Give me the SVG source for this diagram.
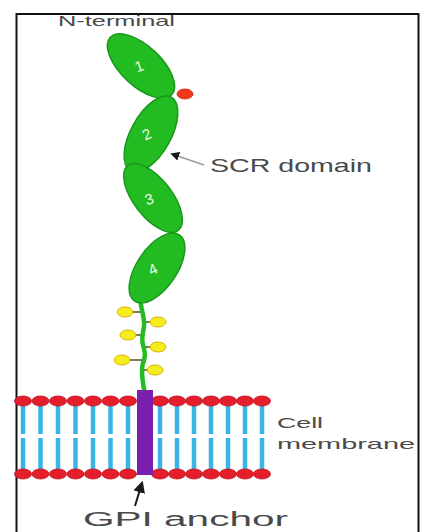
<svg xmlns="http://www.w3.org/2000/svg" width="422" height="532" viewBox="0 0 422 532">
  <defs>
    <style>
      .label { font-family: "Liberation Sans", "DejaVu Sans", Arial, sans-serif; fill: #4a4a4a; }
      .num { font-family: "Liberation Sans", Arial, sans-serif; font-size: 15px; fill: #e8ffe8; text-anchor: middle; }
      .domain { fill: #22bc22; stroke: #17981a; stroke-width: 1.5; }
      .sugar { fill: #f4ec1c; stroke: #d8b400; stroke-width: 1; }
      .head { fill: #e41e2a; stroke: #c01020; stroke-width: 0.8; }
      .tail { stroke: #3ab4e6; stroke-width: 4.5; }
      .link { stroke: #5a4a20; stroke-width: 1.5; }
    </style>
    <marker id="arrowhead" viewBox="0 0 10 10" refX="8" refY="5" markerWidth="6" markerHeight="6" orient="auto-start-reverse">
      <path d="M0,0 L10,5 L0,10 z" fill="#1a1a1a"/>
    </marker>
  </defs>

  <rect x="0" y="0" width="422" height="532" fill="#ffffff"/>
  <!-- outer frame -->
  <rect id="frame" x="16.5" y="14" width="402" height="530" fill="none" stroke="#111111" stroke-width="2"/>

  <!-- cell membrane: bilayer with heads and tails -->
  <g id="membrane">
    <g class="tails">
      <line class="tail" x1="23" y1="404" x2="23" y2="434"/><line class="tail" x1="23" y1="438" x2="23" y2="471"/>
      <line class="tail" x1="40.5" y1="404" x2="40.5" y2="434"/><line class="tail" x1="40.5" y1="438" x2="40.5" y2="471"/>
      <line class="tail" x1="58" y1="404" x2="58" y2="434"/><line class="tail" x1="58" y1="438" x2="58" y2="471"/>
      <line class="tail" x1="75.5" y1="404" x2="75.5" y2="434"/><line class="tail" x1="75.5" y1="438" x2="75.5" y2="471"/>
      <line class="tail" x1="93" y1="404" x2="93" y2="434"/><line class="tail" x1="93" y1="438" x2="93" y2="471"/>
      <line class="tail" x1="110.5" y1="404" x2="110.5" y2="434"/><line class="tail" x1="110.5" y1="438" x2="110.5" y2="471"/>
      <line class="tail" x1="128" y1="404" x2="128" y2="434"/><line class="tail" x1="128" y1="438" x2="128" y2="471"/>
      <line class="tail" x1="160" y1="404" x2="160" y2="434"/><line class="tail" x1="160" y1="438" x2="160" y2="471"/>
      <line class="tail" x1="177" y1="404" x2="177" y2="434"/><line class="tail" x1="177" y1="438" x2="177" y2="471"/>
      <line class="tail" x1="194" y1="404" x2="194" y2="434"/><line class="tail" x1="194" y1="438" x2="194" y2="471"/>
      <line class="tail" x1="211" y1="404" x2="211" y2="434"/><line class="tail" x1="211" y1="438" x2="211" y2="471"/>
      <line class="tail" x1="228" y1="404" x2="228" y2="434"/><line class="tail" x1="228" y1="438" x2="228" y2="471"/>
      <line class="tail" x1="245" y1="404" x2="245" y2="434"/><line class="tail" x1="245" y1="438" x2="245" y2="471"/>
      <line class="tail" x1="262" y1="404" x2="262" y2="434"/><line class="tail" x1="262" y1="438" x2="262" y2="471"/>
    </g>
    <g class="heads-top">
      <ellipse class="head" cx="23" cy="401" rx="8.5" ry="5"/>
      <ellipse class="head" cx="40.5" cy="401" rx="8.5" ry="5"/>
      <ellipse class="head" cx="58" cy="401" rx="8.5" ry="5"/>
      <ellipse class="head" cx="75.5" cy="401" rx="8.5" ry="5"/>
      <ellipse class="head" cx="93" cy="401" rx="8.5" ry="5"/>
      <ellipse class="head" cx="110.5" cy="401" rx="8.5" ry="5"/>
      <ellipse class="head" cx="128" cy="401" rx="8.5" ry="5"/>
      <ellipse class="head" cx="160" cy="401" rx="8.5" ry="5"/>
      <ellipse class="head" cx="177" cy="401" rx="8.5" ry="5"/>
      <ellipse class="head" cx="194" cy="401" rx="8.5" ry="5"/>
      <ellipse class="head" cx="211" cy="401" rx="8.5" ry="5"/>
      <ellipse class="head" cx="228" cy="401" rx="8.5" ry="5"/>
      <ellipse class="head" cx="245" cy="401" rx="8.5" ry="5"/>
      <ellipse class="head" cx="262" cy="401" rx="8.5" ry="5"/>
    </g>
    <g class="heads-bottom">
      <ellipse class="head" cx="23" cy="474" rx="8.5" ry="5"/>
      <ellipse class="head" cx="40.5" cy="474" rx="8.5" ry="5"/>
      <ellipse class="head" cx="58" cy="474" rx="8.5" ry="5"/>
      <ellipse class="head" cx="75.5" cy="474" rx="8.5" ry="5"/>
      <ellipse class="head" cx="93" cy="474" rx="8.5" ry="5"/>
      <ellipse class="head" cx="110.5" cy="474" rx="8.5" ry="5"/>
      <ellipse class="head" cx="128" cy="474" rx="8.5" ry="5"/>
      <ellipse class="head" cx="160" cy="474" rx="8.5" ry="5"/>
      <ellipse class="head" cx="177" cy="474" rx="8.5" ry="5"/>
      <ellipse class="head" cx="194" cy="474" rx="8.5" ry="5"/>
      <ellipse class="head" cx="211" cy="474" rx="8.5" ry="5"/>
      <ellipse class="head" cx="228" cy="474" rx="8.5" ry="5"/>
      <ellipse class="head" cx="245" cy="474" rx="8.5" ry="5"/>
      <ellipse class="head" cx="262" cy="474" rx="8.5" ry="5"/>
    </g>
  </g>

  <!-- stalk with O-linked sugars -->
  <g id="stalk">
    <line class="link" x1="125" y1="312" x2="141" y2="312"/>
    <line class="link" x1="144" y1="322" x2="158" y2="322"/>
    <line class="link" x1="128" y1="335" x2="142" y2="335"/>
    <line class="link" x1="145" y1="347" x2="158" y2="347"/>
    <line class="link" x1="122" y1="360" x2="142" y2="360"/>
    <line class="link" x1="144" y1="370" x2="155" y2="370"/>
    <path d="M140,298 C141,310 145,318 144,326 C143,334 141,338 143,345 C145,352 146,356 143,363 C141,370 142,380 145,394" fill="none" stroke="#22bc22" stroke-width="4.5" stroke-linecap="round"/>
    <ellipse class="sugar" cx="125" cy="312" rx="8" ry="5"/>
    <ellipse class="sugar" cx="158" cy="322" rx="8" ry="5"/>
    <ellipse class="sugar" cx="128" cy="335" rx="8" ry="5"/>
    <ellipse class="sugar" cx="158" cy="347" rx="8" ry="5"/>
    <ellipse class="sugar" cx="122" cy="360" rx="8" ry="5"/>
    <ellipse class="sugar" cx="155" cy="370" rx="8" ry="5"/>
  </g>

  <!-- GPI anchor in the bilayer -->
  <g id="gpi-anchor">
    <rect x="137" y="390" width="16" height="85" fill="#7a1fae"/>
  </g>

  <!-- SCR domains -->
  <g id="domain-1">
    <ellipse class="domain" cx="141" cy="66" rx="42" ry="20" transform="rotate(43 141 66)"/>
    <text class="num" x="0" y="0" transform="translate(141 71) rotate(-20)">1</text>
  </g>
  <g id="domain-2">
    <ellipse class="domain" cx="151" cy="134" rx="42" ry="20" transform="rotate(-61 151 134)"/>
    <text class="num" x="0" y="0" transform="translate(149 139) rotate(-25)">2</text>
  </g>
  <g id="domain-3">
    <ellipse class="domain" cx="153" cy="198" rx="41" ry="19" transform="rotate(52 153 198)"/>
    <text class="num" x="0" y="0" transform="translate(151 204) rotate(-20)">3</text>
  </g>
  <g id="domain-4">
    <ellipse class="domain" cx="157" cy="268" rx="40" ry="20" transform="rotate(-56 157 268)"/>
    <text class="num" x="0" y="0" transform="translate(155 274) rotate(-25)">4</text>
  </g>

  <!-- N-linked site -->
  <g id="n-glycan">
    <ellipse cx="185" cy="94" rx="8" ry="5" fill="#ee3a1a" stroke="#d02010" stroke-width="0.8"/>
  </g>

  <!-- pointers -->
  <g id="connectors">
    <line x1="204" y1="165" x2="172" y2="154" stroke="#9a9a9a" stroke-width="1.5" marker-end="url(#arrowhead)"/>
    <line x1="135" y1="506" x2="142" y2="483" stroke="#1a1a1a" stroke-width="2" marker-end="url(#arrowhead)"/>
  </g>

  <!-- labels -->
  <g id="labels">
    <text class="label" x="58" y="26" font-size="15" textLength="117" lengthAdjust="spacingAndGlyphs">N-terminal</text>
    <text class="label" x="210" y="172" font-size="18" textLength="162" lengthAdjust="spacingAndGlyphs">SCR domain</text>
    <text class="label" x="277" y="428" font-size="15" textLength="46" lengthAdjust="spacingAndGlyphs">Cell</text>
    <text class="label" x="277" y="449" font-size="15" textLength="138" lengthAdjust="spacingAndGlyphs">membrane</text>
    <text class="label" x="83" y="526" font-size="20" textLength="205" lengthAdjust="spacingAndGlyphs" fill="#333333">GPI anchor</text>
  </g>
</svg>
